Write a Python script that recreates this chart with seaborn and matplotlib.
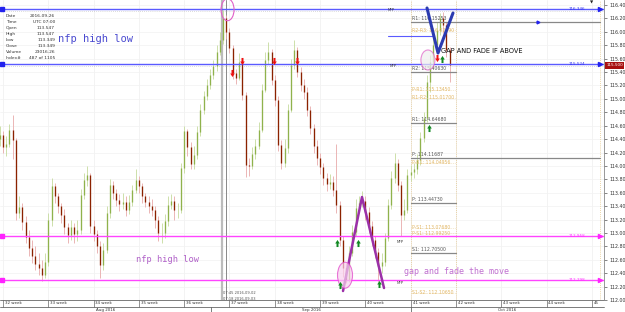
import numpy as np
import matplotlib
matplotlib.use("Agg")
import matplotlib.pyplot as plt
from matplotlib.patches import Ellipse
from matplotlib.path import Path
import matplotlib.transforms as mtransforms
import seaborn as sns

# ---------------- data ----------------
first_open = 114.40
closes = [114.461, 114.282, 114.327, 114.536, 114.387, 113.298, 113.387, 113.163, 112.940, 112.776,
          112.656, 112.537, 112.477, 112.373, 112.567, 113.193, 113.700, 113.551, 113.402, 113.268,
          113.089, 112.970, 113.089, 112.984, 113.044, 113.566, 113.790, 113.865, 113.104, 112.984,
          112.805, 112.522, 112.746, 113.298, 113.715, 113.596, 113.492, 113.432, 113.462, 113.342,
          113.462, 113.641, 113.790, 113.700, 113.551, 113.462, 113.402, 113.342, 113.193, 112.999,
          112.999, 113.178, 113.417, 113.477, 113.342, 113.342, 113.969, 114.521, 114.282, 114.029,
          114.163, 114.506, 114.834, 115.043, 115.207, 115.356, 115.490, 115.699, 115.878, 116.206,
          115.998, 115.759, 115.386, 115.311, 115.550, 115.058, 114.014, 113.999, 114.178, 114.297,
          114.536, 115.132, 115.580, 115.699, 115.282, 114.983, 114.312, 114.044, 114.267, 114.834,
          115.505, 115.729, 115.401, 115.207, 115.103, 114.834, 114.566, 114.297, 114.118, 113.984,
          113.820, 113.730, 113.760, 113.641, 113.417, 112.895, 112.477, 112.298, 112.701, 113.014,
          113.372, 113.447, 113.477, 113.313, 113.104, 112.895, 112.716, 112.507, 112.567, 112.925,
          113.417, 113.820, 114.044, 113.715, 113.268, 113.342, 113.865, 113.909, 113.954, 114.088,
          114.416, 114.715, 115.252, 115.550, 115.804, 116.028, 116.206, 116.102, 115.729, 115.500]
highs = [114.60, 114.52, 114.45, 114.62, 114.76, 114.42, 113.55, 113.45, 113.25, 113.05,
         112.90, 112.80, 112.70, 112.60, 112.70, 113.30, 113.82, 113.75, 113.60, 113.45,
         113.35, 113.15, 113.20, 113.15, 113.20, 113.65, 113.90, 114.00, 113.90, 113.20,
         113.05, 112.88, 112.85, 113.40, 113.80, 113.78, 113.65, 113.58, 113.60, 113.55,
         113.56, 113.72, 113.96, 113.85, 113.75, 113.60, 113.55, 113.50, 113.40, 113.25,
         113.15, 113.28, 113.55, 113.58, 113.55, 113.45, 114.05, 114.60, 114.55, 114.35,
         114.30, 114.60, 114.92, 115.12, 115.30, 115.45, 115.58, 115.80, 116.00, 116.33,
         116.25, 116.05, 115.80, 115.45, 115.68, 115.60, 115.10, 114.12, 114.28, 114.40,
         114.65, 115.22, 115.70, 115.85, 115.75, 115.35, 115.05, 114.38, 114.40, 114.92,
         115.60, 115.88, 115.78, 115.48, 115.30, 115.18, 114.90, 114.62, 114.38, 114.20,
         114.05, 113.90, 113.88, 113.85, 114.32, 113.48, 112.95, 112.55, 112.80, 113.12,
         113.50, 113.55, 113.62, 113.55, 113.38, 113.18, 112.95, 112.78, 112.70, 113.00,
         113.50, 113.92, 114.20, 114.10, 113.78, 113.50, 113.95, 114.02, 114.05, 114.18,
         114.50, 114.80, 115.35, 115.65, 115.95, 116.15, 116.28, 116.30, 116.15, 115.78]
lows = [114.30, 114.20, 114.15, 114.28, 114.10, 113.20, 113.22, 113.05, 112.85, 112.65,
        112.55, 112.45, 112.38, 112.29, 112.33, 112.50, 113.10, 113.45, 113.30, 113.15,
        112.98, 112.85, 112.90, 112.85, 112.88, 112.98, 113.50, 113.70, 113.00, 112.88,
        112.70, 112.33, 112.45, 112.70, 113.22, 113.50, 113.40, 113.33, 113.35, 113.25,
        113.28, 113.40, 113.60, 113.60, 113.45, 113.38, 113.30, 113.25, 113.08, 112.88,
        112.85, 112.92, 113.10, 113.35, 113.20, 113.22, 113.30, 113.90, 114.15, 113.95,
        113.96, 114.10, 114.45, 114.78, 114.98, 115.15, 115.30, 115.42, 115.65, 115.82,
        115.90, 115.68, 115.30, 115.22, 115.28, 114.98, 113.84, 113.85, 113.95, 114.10,
        114.25, 114.50, 115.10, 115.52, 115.20, 114.90, 114.22, 113.95, 113.98, 114.20,
        114.80, 115.45, 115.32, 115.12, 115.00, 114.75, 114.48, 114.20, 114.02, 113.88,
        113.72, 113.62, 113.65, 113.55, 113.30, 112.80, 112.35, 112.25, 112.27, 112.65,
        112.95, 113.30, 113.38, 113.20, 113.00, 112.80, 112.62, 112.27, 112.40, 112.50,
        112.88, 113.35, 113.75, 113.62, 112.95, 113.20, 113.30, 113.78, 113.82, 113.88,
        114.02, 114.35, 114.65, 115.10, 115.45, 115.70, 115.95, 115.98, 115.62, 115.25]

week_numbers = list(range(32, 46))
week_labels = [f"{w} week" for w in range(32, 45)] + ["45"]
month_labels = ["Aug 2016", "Sep 2016", "Oct 2016"]
month_bounds = [31.934, 36.6, 41.0, 45.267]

blue_levels = [116.346, 115.524]
blue_level_labels = ["116.346", "115.524"]
magenta_levels = [112.958, 112.298]
magenta_level_labels = ["112.958", "112.298"]
last_price = 115.500

pivot_labels = ["R1: 116.15253", "R2: 115.40630", "R1: 114.64680", "P: 114.11687", "P: 113.44730", "S1: 112.70500"]
pivot_values = [116.15253, 115.40630, 114.64680, 114.11687, 113.44730, 112.70500]
pivot_long = [True, False, False, True, False, False]
mid_labels = ["R2-R3: 116.02190", "P-R1: 115.13450", "R1-R2: 115.01700", "P-R1: 114.04956",
              "P-S1: 113.07680", "P-S1: 112.99250", "S1-S2: 112.10650"]
mid_values = [116.0219, 115.1345, 115.0170, 114.04956, 113.0768, 112.9925, 112.1065]

v_weeks = [41.360, 41.603, 41.934]
v_prices = [116.356, 115.684, 116.281]
zig_weeks = [39.506, 39.925, 40.411]
zig_prices = [112.134, 113.536, 112.179]

red_arrow_weeks = [37.055, 37.276, 37.982, 38.490, 41.581]
red_arrow_prices = [115.386, 115.565, 115.565, 115.565, 115.610]
green_arrow_weeks = [41.691, 41.404, 39.373, 39.837, 39.439, 40.300]
green_arrow_prices = [115.595, 114.566, 112.850, 112.850, 112.224, 112.239]

info_keys = ["Date", "Time", "Open", "High", "Low", "Close", "Volume", "Index#"]
info_vals = ["2016-09-26", "UTC 07:00", "113.547", "113.547", "113.349", "113.349", "23016.26", "487 of 1105"]

BARS_PER_WEEK = 14
FIRST_BAR_WEEK = 32 - 1 / 14

# ---------------- figure ----------------
sns.set_style("white")
plt.rcParams['font.family'] = ['DejaVu Sans']

fig = plt.figure(figsize=(6.25, 3.12), dpi=100)
ax = fig.add_axes([0, 12 / 312, 604 / 625, 300 / 312])
ax.set_xlim(31.934, 45.267)
ax.set_ylim(112.0, 116.475)

# faint grid
for w in week_numbers:
    ax.axvline(w, color="#eeeeee", lw=0.5, zorder=0)
for yv in np.arange(112.0, 116.41, 0.2):
    ax.axhline(yv, color="#f2f2f2", lw=0.5, zorder=0)

# candles
n = len(closes)
opens = [first_open] + closes[:-1]
xs = np.array([FIRST_BAR_WEEK + i / BARS_PER_WEEK for i in range(n)])
o = np.array(opens); c = np.array(closes); h = np.array(highs); l = np.array(lows)
up = c >= o
ax.vlines(xs[up], l[up], h[up], color="#c5da9c", lw=0.6, zorder=2)
ax.vlines(xs[~up], l[~up], h[~up], color="#e8aaaa", lw=0.6, zorder=2)
ax.vlines(xs[up], o[up], c[up], color="#8fb24c", lw=0.95, zorder=3)
ax.vlines(xs[~up], c[~up], o[~up], color="#8b2200", lw=0.95, zorder=3)

# dotted tan verticals
for w in [41.0, 42.0, 45.18]:
    ax.axvline(w, color="#e6c88a", lw=0.6, ls=(0, (1, 1.5)), zorder=1)

# cursor lines
ax.axvline(36.841, color="#bbbbbb", lw=1.6, zorder=1)
ax.axvline(36.916, color="#888888", lw=0.7, zorder=1)

# horizontal levels
blend = mtransforms.blended_transform_factory(ax.transAxes, ax.transData)
for lv, lab in zip(blue_levels, blue_level_labels):
    ax.axhline(lv, color="#5a5aff", lw=1.0, zorder=4)
    ax.axhline(lv - 0.03, color="#bbbbbb", lw=0.5, ls=(0, (1, 2)), zorder=1)
    ax.plot([31.97], [lv], marker="s", ms=2.2, color="#2222ee", zorder=5)
    ax.text(44.85, lv, lab, color="#3333ee", fontsize=3.0, ha="right", va="center", zorder=6)
    ax.plot([45.18], [lv], marker=">", ms=3, color="#2222ee", zorder=5)
for lv, lab in zip(magenta_levels, magenta_level_labels):
    ax.axhline(lv, color="#ff44ff", lw=1.0, zorder=4)
    ax.plot([31.97], [lv], marker="s", ms=2.2, color="#ff22ff", zorder=5)
    ax.text(44.85, lv, lab, color="#ff33ff", fontsize=3.0, ha="right", va="center", zorder=6)
    ax.plot([45.18], [lv], marker=">", ms=3, color="#ff22ff", zorder=5)

# short blue segment
ax.plot([40.49, 41.49], [115.938, 115.938], color="#5a5aff", lw=0.8, zorder=4)

# pivots
for lab, val, lng in zip(pivot_labels, pivot_values, pivot_long):
    x1 = 45.18 if lng else 42.0
    ax.plot([41.0, x1], [val, val], color="#888888", lw=0.9, zorder=4)
    ax.text(41.02, val + 0.01, lab, color="#555555", fontsize=3.3, ha="left", va="bottom", zorder=6)
ax.plot([43.8], [116.15253], marker=">", ms=2, color="#2222ee", zorder=6)
for lab, val in zip(mid_labels, mid_values):
    ax.plot([41.0, 42.0], [val, val], color="#ecd6a8", lw=0.5, ls=(0, (1, 1.5)), zorder=3)
    ax.text(41.02, val, lab, color="#e2b766", fontsize=3.3, ha="left", va="center", zorder=6)

# drawn lines
sns.lineplot(x=v_weeks, y=v_prices, sort=False, color="#2b3bb0", lw=2.2, ax=ax, zorder=7)
sns.lineplot(x=zig_weeks, y=zig_prices, sort=False, color="#9b30a8", lw=1.8, ax=ax, zorder=7)

# ellipses
def week_w(px):
    return px / 45.3
def price_h(px):
    return px / 67.04
ax.add_patch(Ellipse((36.957, 116.33), week_w(13), price_h(22), fill=False, ec="#e060c8", lw=0.8, zorder=8))
ax.add_patch(Ellipse((39.55, 112.37), week_w(15), price_h(26), fc="#f8d0ee", ec="#e040c8", lw=0.8, alpha=0.7, zorder=8))
ax.add_patch(Ellipse((41.38, 115.58), week_w(14), price_h(20), fc="#eeeeee", ec="#e060c8", lw=0.8, alpha=0.7, zorder=8))

# arrows
down = Path([(-0.28, 1), (0.28, 1), (0.28, 0), (0.65, 0), (0, -1), (-0.65, 0), (-0.28, 0), (-0.28, 1)],
            [Path.MOVETO] + [Path.LINETO] * 6 + [Path.CLOSEPOLY])
upm = Path([(x, -y) for x, y in down.vertices], down.codes)
ax.scatter(red_arrow_weeks, red_arrow_prices, marker=down, s=26, color="#ee1111", zorder=9, linewidths=0)
ax.scatter(green_arrow_weeks, green_arrow_prices, marker=upm, s=26, color="#118822", zorder=9, linewidths=0)

# texts
ax.text(33.214, 115.893, "nfp high low", family="DejaVu Sans Mono", fontsize=7.5, color="#4a4ad0", va="center")
ax.text(34.936, 112.597, "nfp high low", family="DejaVu Sans Mono", fontsize=6.2, color="#b060c8", va="center")
ax.text(40.852, 112.418, "gap and fade the move", family="DejaVu Sans Mono", fontsize=6.0, color="#c070d0", va="center", zorder=9)
ax.text(41.669, 115.714, "GAP AND FADE IF ABOVE", fontsize=4.8, color="#111111", va="center", zorder=9)
for wk, pr in [(40.50, 116.33), (40.53, 115.49), (40.68, 112.87), (40.70, 112.25)]:
    ax.text(wk, pr, "NFP", fontsize=2.6, color="#333333", va="center", zorder=9)

# info box
for k, (key, val) in enumerate(zip(info_keys, info_vals)):
    yy = 1 - (15.7 + 6.05 * k) / 300
    ax.text(0.0099, yy, key, transform=ax.transAxes, fontsize=3.2, color="#333333", va="center")
    ax.text(0.091, yy, val, transform=ax.transAxes, fontsize=3.2, color="#333333", va="center", ha="right")

# cursor time labels
xt = ax.get_xaxis_transform()
ax.text(36.86, 0.023, "07:45 2016-09-02", transform=xt, fontsize=2.6, color="#555555", va="center")
ax.text(36.86, 0.004, "07:18 2016-09-03", transform=xt, fontsize=2.6, color="#555555", va="center")
ax.text(45.0, 0.997, "\u25bc", transform=xt, fontsize=3, color="#222222", ha="center", va="top")

# right axis
ax.yaxis.tick_right()
ax.set_yticks(np.arange(112.0, 116.41, 0.2))
ax.set_yticklabels([f"{v:.2f}" for v in np.arange(112.0, 116.41, 0.2)])
ax.tick_params(axis="y", labelsize=3.4, labelcolor="#333333", length=2, width=0.5, color="#555555", pad=2, right=True, left=False)
ax.set_xticks([])
for s in ["top", "left", "bottom"]:
    ax.spines[s].set_visible(False)
ax.spines["right"].set_color("#888888")
ax.spines["right"].set_linewidth(0.6)
ax.text(1.004, last_price, f"{last_price:.3f}", transform=blend, fontsize=3.0, color="white", va="center", ha="left",
        bbox=dict(facecolor="#a81010", edgecolor="none", pad=0.9), clip_on=False, zorder=10)

# bottom axis: weeks and months
ax.plot([0, 1], [0, 0], transform=ax.transAxes, color="#666666", lw=0.6, clip_on=False)
ax.plot([0, 1], [-0.023, -0.023], transform=ax.transAxes, color="#666666", lw=0.6, clip_on=False)
for w, lab in zip(week_numbers, week_labels):
    ax.plot([w, w], [0, -0.023], transform=xt, color="#666666", lw=0.5, clip_on=False)
    ax.text(w + 0.04, -0.011, lab, transform=xt, fontsize=2.9, color="#333333", va="center", ha="left", clip_on=False)
for b in month_bounds[1:-1]:
    ax.plot([b, b], [-0.023, -0.045], transform=xt, color="#666666", lw=0.6, clip_on=False)
for lab, a, b in zip(month_labels, month_bounds[:-1], month_bounds[1:]):
    ax.text((a + b) / 2, -0.034, lab, transform=xt, fontsize=2.9, color="#333333", va="center", ha="center", clip_on=False)

ax.set_xlabel(""); ax.set_ylabel("")
fig.savefig("out.png", dpi=100)
